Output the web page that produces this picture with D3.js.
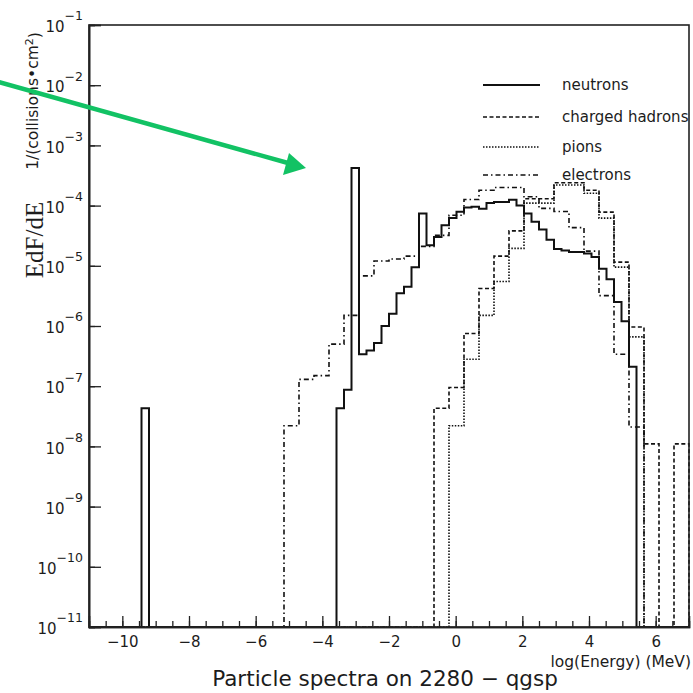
<!DOCTYPE html>
<html>
<head>
<meta charset="utf-8">
<script src="https://cdnjs.cloudflare.com/ajax/libs/d3/7.8.5/d3.min.js"></script>
<style>
body { margin: 0; background: #fff; }
text { font-family: "DejaVu Sans", sans-serif; fill: #1c1c1c; }
</style>
</head>
<body>
<svg id="chart" width="693" height="693"></svg>
<script>
// histogram binning: 80 bins in log10(E/MeV) from -11 to 7
var xMin = -11, xMax = 7, nBins = 80;

var neutrons = [
    0, 0, 0, 0, 0, 0, 0, 4.3e-8, 0, 0,
    0, 0, 0, 0, 0, 0, 0, 0, 0, 0,
    0, 0, 0, 0, 0, 0, 0, 0, 0, 0,
    0, 0, 0, 4.3e-8, 8.7e-8, 4.2e-4, 3.4e-7, 3.9e-7, 5.2e-7, 1.0e-6,
    1.6e-6, 3.5e-6, 4.5e-6, 9.5e-6, 7.4e-5, 2.2e-5, 3.0e-5, 4.7e-5, 6.2e-5, 7.9e-5,
    9.3e-5, 9.6e-5, 8.9e-5, 1.1e-4, 1.15e-4, 1.15e-4, 1.25e-4, 1.0e-4, 7.4e-5, 5.4e-5,
    4.0e-5, 2.7e-5, 1.9e-5, 1.8e-5, 1.7e-5, 1.7e-5, 1.6e-5, 1.4e-5, 8.9e-6, 6.0e-6,
    2.5e-6, 1.2e-6, 2.1e-7, 0, 0, 0, 0, 0, 0, 0
];

var chargedHadrons = [
    0, 0, 0, 0, 0, 0, 0, 0, 0, 0,
    0, 0, 0, 0, 0, 0, 0, 0, 0, 0,
    0, 0, 0, 0, 0, 0, 0, 0, 0, 0,
    0, 0, 0, 0, 0, 0, 0, 0, 0, 0,
    0, 0, 0, 0, 0, 0, 4.3e-8, 4.3e-8, 9.5e-8, 9.5e-8,
    7.5e-7, 7.5e-7, 4.2e-6, 4.2e-6, 1.45e-5, 1.45e-5, 3.8e-5, 3.8e-5, 1.3e-4, 1.3e-4,
    1.3e-4, 1.3e-4, 2.4e-4, 2.4e-4, 2.4e-4, 2.4e-4, 1.8e-4, 1.8e-4, 7.8e-5, 7.8e-5,
    1.15e-5, 1.15e-5, 9.6e-7, 9.6e-7, 1.1e-8, 1.1e-8, 0, 0, 1.1e-8, 1.1e-8
];

var pions = [
    0, 0, 0, 0, 0, 0, 0, 0, 0, 0,
    0, 0, 0, 0, 0, 0, 0, 0, 0, 0,
    0, 0, 0, 0, 0, 0, 0, 0, 0, 0,
    0, 0, 0, 0, 0, 0, 0, 0, 0, 0,
    0, 0, 0, 0, 0, 0, 0, 0, 2.2e-8, 2.2e-8,
    2.8e-7, 2.8e-7, 1.5e-6, 1.5e-6, 5.5e-6, 5.5e-6, 1.95e-5, 1.95e-5, 1.1e-4, 1.1e-4,
    1.1e-4, 1.1e-4, 2.2e-4, 2.2e-4, 2.2e-4, 2.2e-4, 1.6e-4, 1.6e-4, 6.2e-5, 6.2e-5,
    9.5e-6, 9.5e-6, 6.6e-7, 6.6e-7, 0, 0, 0, 0, 0, 0
];

var electrons = [
    0, 0, 0, 0, 0, 0, 0, 0, 0, 0,
    0, 0, 0, 0, 0, 0, 0, 0, 0, 0,
    0, 0, 0, 0, 0, 0, 2.2e-8, 2.2e-8, 1.3e-7, 1.3e-7,
    1.5e-7, 1.5e-7, 5.0e-7, 5.0e-7, 1.5e-6, 1.5e-6, 6.8e-6, 6.8e-6, 1.2e-5, 1.2e-5,
    1.3e-5, 1.3e-5, 1.45e-5, 1.45e-5, 2.1e-5, 2.1e-5, 3.2e-5, 3.2e-5, 6.9e-5, 6.9e-5,
    1.26e-4, 1.26e-4, 1.8e-4, 1.8e-4, 2.0e-4, 2.0e-4, 2.0e-4, 2.0e-4, 1.4e-4, 1.4e-4,
    9.0e-5, 9.0e-5, 8.0e-5, 8.0e-5, 4.3e-5, 4.3e-5, 1.75e-5, 1.75e-5, 3.2e-6, 3.2e-6,
    3.4e-7, 3.4e-7, 2.1e-8, 2.1e-8, 0, 0, 0, 0, 0, 0
];

var seriesNames = ["neutrons", "charged hadrons", "pions", "electrons"];
var xTickValues = [-10, -8, -6, -4, -2, 0, 2, 4, 6];
var yDecades = [1e-11, 1e-10, 1e-9, 1e-8, 1e-7, 1e-6, 1e-5, 1e-4, 1e-3, 1e-2, 1e-1];

var series = [
    {name: seriesNames[0], values: neutrons, dash: null, width: 2},
    {name: seriesNames[1], values: chargedHadrons, dash: "4,2.5", width: 1.6},
    {name: seriesNames[2], values: pions, dash: "1.5,1.5", width: 1.6},
    {name: seriesNames[3], values: electrons, dash: "5,3,1.5,3", width: 1.6}
];

var svg = d3.select("#chart");
var margin = {top: 25, right: 4, bottom: 66, left: 89};
var width = 600, height = 602;

var x = d3.scaleLinear()
    .domain([xMin, xMax])
    .range([margin.left, margin.left + width]);

var y = d3.scaleLog()
    .domain([1e-11, 1e-1])
    .range([margin.top + height, margin.top]);

var y0 = y.range()[0];
var edges = d3.range(nBins + 1).map(function(i) { return xMin + i * (xMax - xMin) / nBins; });

function stepPath(values) {
    var p = d3.path();
    p.moveTo(x(edges[0]), y0);
    for (var i = 0; i < values.length; i++) {
        var yy = values[i] > 0 ? y(values[i]) : y0;
        p.lineTo(x(edges[i]), yy);
        p.lineTo(x(edges[i + 1]), yy);
    }
    p.lineTo(x(edges[nBins]), y0);
    return p.toString();
}

// histograms
svg.append("g")
    .selectAll("path")
    .data(series.slice().reverse())
    .enter()
    .append("path")
    .attr("d", function(d) { return stepPath(d.values); })
    .attr("fill", "none")
    .attr("stroke", "#111")
    .attr("stroke-width", function(d) { return d.width; })
    .attr("stroke-dasharray", function(d) { return d.dash; })
    .attr("stroke-linejoin", "miter");

// frame
svg.append("rect")
    .attr("x", margin.left)
    .attr("y", margin.top)
    .attr("width", width)
    .attr("height", height)
    .attr("fill", "none")
    .attr("stroke", "#222")
    .attr("stroke-width", 1.6);

// x axis: minor ticks every 0.5, major every 2
var xMinor = svg.append("g")
    .attr("transform", "translate(0," + y0 + ")")
    .call(d3.axisBottom(x)
        .tickValues(d3.range(xMin + 0.5, xMax, 0.5))
        .tickSize(-6)
        .tickFormat(""));

var xMajor = svg.append("g")
    .attr("transform", "translate(0," + y0 + ")")
    .call(d3.axisBottom(x)
        .tickValues(xTickValues)
        .tickSize(-11)
        .tickPadding(9));

xMajor.selectAll("text")
    .style("font-size", "15px")
    .style("fill", "#1c1c1c");

// y axis: log minor ticks and decades
var yMinor = svg.append("g")
    .attr("transform", "translate(" + margin.left + ",0)")
    .call(d3.axisLeft(y)
        .ticks(10)
        .tickSize(-6)
        .tickFormat(""));

var yMajor = svg.append("g")
    .attr("transform", "translate(" + margin.left + ",0)")
    .call(d3.axisLeft(y)
        .tickValues(yDecades)
        .tickSize(-12)
        .tickPadding(6)
        .tickFormat(""));

yMajor.selectAll(".tick text")
    .attr("dy", "0.45em")
    .style("font-size", "15px")
    .each(function(d) {
        var t = d3.select(this);
        t.append("tspan").text("10");
        t.append("tspan")
            .attr("dy", "-0.95em")
            .style("font-size", "12.5px")
            .text("\u2212" + Math.round(-Math.log10(d)));
    });

svg.selectAll(".domain")
    .attr("stroke", "#222")
    .attr("stroke-width", 1.6);
svg.selectAll(".tick line")
    .attr("stroke", "#222")
    .attr("stroke-width", 1.3);

// legend
var legend = svg.append("g")
    .selectAll("g")
    .data(series)
    .enter()
    .append("g")
    .attr("transform", function(d, i) { return "translate(483," + [85, 117, 147, 175][i] + ")"; });

legend.append("line")
    .attr("x1", 0)
    .attr("x2", 57)
    .attr("stroke", "#111")
    .attr("stroke-width", function(d) { return d.width; })
    .attr("stroke-dasharray", function(d) { return d.dash; });

legend.append("text")
    .attr("x", 79)
    .attr("y", 5)
    .style("font-size", "15px")
    .text(function(d) { return d.name; });

// axis titles
svg.append("text")
    .attr("text-anchor", "end")
    .attr("x", 691)
    .attr("y", 667)
    .style("font-size", "15.5px")
    .text("log(Energy) (MeV)");

svg.append("text")
    .attr("text-anchor", "middle")
    .attr("x", 385)
    .attr("y", 686)
    .style("font-size", "21.5px")
    .text("Particle spectra on 2280 \u2212 qgsp");

svg.append("text")
    .attr("text-anchor", "middle")
    .attr("transform", "translate(43,240) rotate(-90)")
    .style("font-family", "'Liberation Serif', 'DejaVu Serif', serif")
    .style("font-size", "25px")
    .text("EdF/dE");

var unit = svg.append("text")
    .attr("text-anchor", "middle")
    .attr("transform", "translate(38,101) rotate(-90)")
    .style("font-size", "15.5px");
unit.append("tspan").text("1/(collisions\u2022cm");
unit.append("tspan").attr("dy", "-0.5em").style("font-size", "11px").text("2");
unit.append("tspan").attr("dy", "0.5em").text(")");

// green annotation arrow
svg.append("line")
    .attr("x1", -5)
    .attr("y1", 81)
    .attr("x2", 288)
    .attr("y2", 163)
    .attr("stroke", "#12c264")
    .attr("stroke-width", 4.5);

svg.append("path")
    .attr("d", "M306,168 L283,175 L289,153 Z")
    .attr("fill", "#12c264");
</script>
</body>
</html>
